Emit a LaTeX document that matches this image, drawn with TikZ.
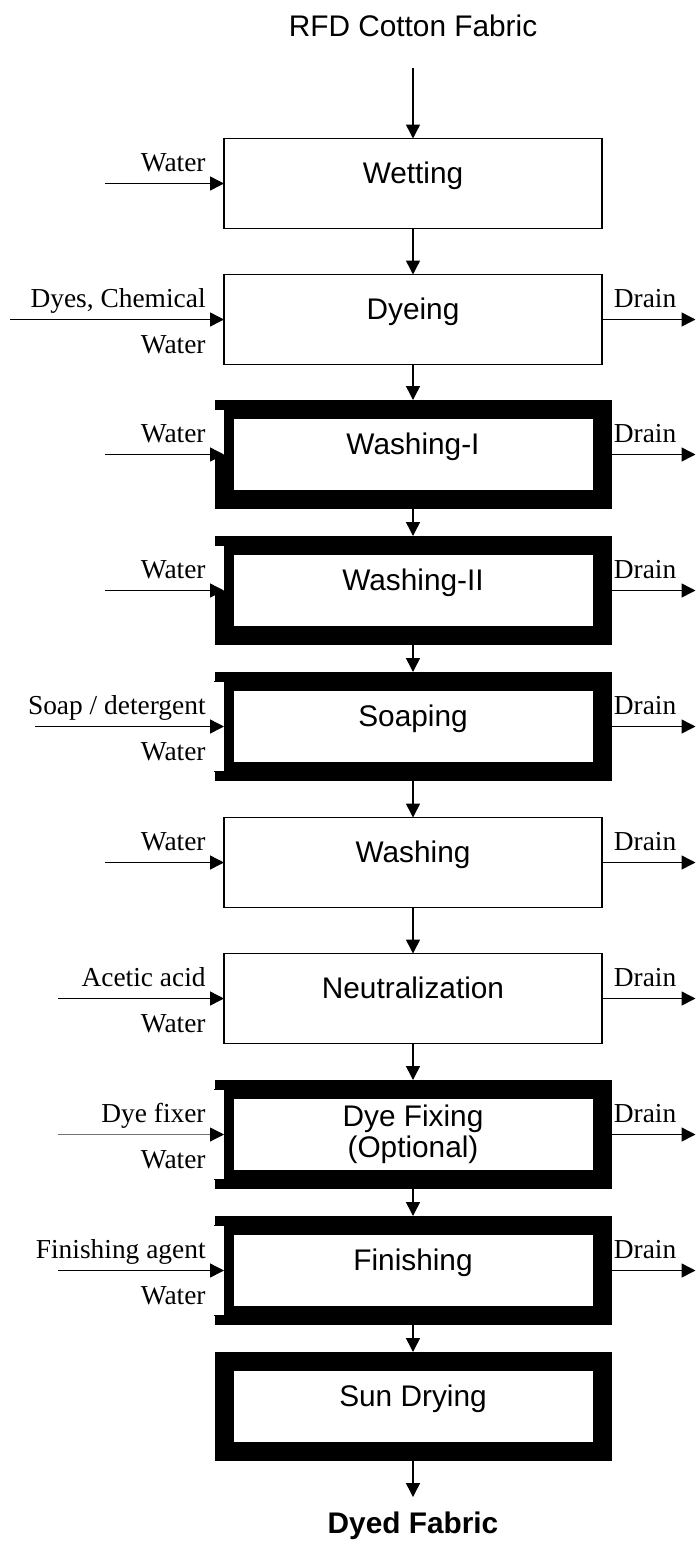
\documentclass[tikz,border=0pt]{standalone}
\usepackage{fontspec}
\setmainfont{Liberation Serif}
\setsansfont{Liberation Sans}
\usetikzlibrary{arrows.meta}
\begin{document}
\begin{tikzpicture}[x=0.5pt,y=-0.5pt,
  box/.style={draw, line width=0.65pt, minimum width=189pt, minimum height=45pt, inner sep=0pt, outer sep=0pt,
    font=\sffamily\fontsize{14.9}{15.5}\selectfont, text height=0pt, text depth=0pt},
  thickbox/.style={box, line width=9.5pt},
  flow/.style={line width=0.75pt, -{Triangle[length=7pt,width=7pt]}},
  intothick/.style={shorten >=4.75pt},
  lab/.style={font=\fontsize{13.7}{15}\selectfont, inner sep=0pt},
  notch/.style={fill=white},
  notchline/.style={line width=0.4pt},
  ]
\useasboundingbox (0,0) rectangle (696,1543);

% process boxes
\node[box] (wet) at (413,183.5) {Wetting};
\node[box] (dye) at (413,319.5) {Dyeing};
\node[thickbox] (w1) at (413,454.5) {Washing-I};
\node[thickbox] (w2) at (413,590.5) {Washing-II};
\node[thickbox] (soap) at (413,726.5) {Soaping};
\node[box] (wash) at (413,862.5) {Washing};
\node[box] (neu) at (413,998.5) {Neutralization};
\node[thickbox, align=center, text height=22.5pt, text depth=0pt] (fix) at (413,1134.5) {Dye Fixing\\(Optional)};
\node[thickbox] (fin) at (413,1270.5) {Finishing};
\node[thickbox] (sun) at (413,1406.5) {Sun Drying};

% notches in the thick frames
\fill[notch] ([xshift=-5pt]w1.north west) rectangle (w1.west);
\fill[notch] ([xshift=-5pt]w2.north west) rectangle (w2.west);
\foreach \b in {soap,fix,fin}{
  \fill[notch] ([xshift=-5pt]\b.north west) rectangle (\b.south west);
  \draw[notchline] ([xshift=-5pt]\b.north west) -- (\b.north west);
  \draw[notchline] ([xshift=-5pt]\b.south west) -- (\b.south west);
}

% start and end
\node[font=\sffamily\fontsize{14.9}{18}\selectfont, anchor=base, inner sep=0pt] (src) at (413,36.5) {RFD Cotton Fabric};
\coordinate (srca) at (413,68);
\node[font=\sffamily\bfseries\fontsize{14.9}{18}\selectfont, anchor=base, inner sep=0pt] (out) at (413,1533) {Dyed Fabric};
\coordinate (outa) at (413,1497);

% main flow
\draw[flow] (srca) -- (wet);
\draw[flow] (wet) -- (dye);
\draw[flow, intothick] (dye) -- (w1);
\draw[flow, intothick] (w1) -- (w2);
\draw[flow, intothick] (w2) -- (soap);
\draw[flow] (soap) -- (wash);
\draw[flow] (wash) -- (neu);
\draw[flow, intothick] (neu) -- (fix);
\draw[flow, intothick] (fix) -- (fin);
\draw[flow, intothick] (fin) -- (sun);
\draw[flow] (sun) -- (outa);

% inputs
\coordinate (wetin) at (105,183.5);
\draw[flow] (wetin) -- (wet.west);
\node[lab, anchor=base east] (wetl) at ([xshift=-9pt,yshift=6pt]wet.west) {Water};

\coordinate (dyein) at (10,319.5);
\draw[flow] (dyein) -- (dye.west);
\node[lab, anchor=base east] (dyel) at ([xshift=-9pt,yshift=6pt]dye.west) {Dyes, Chemical};
\node[lab, anchor=base east] (dyel2) at ([xshift=-9pt,yshift=-17pt]dye.west) {Water};

\coordinate (w1in) at (105,454.5);
\draw[flow] (w1in) -- (w1.west);
\node[lab, anchor=base east] (w1l) at ([xshift=-9pt,yshift=6pt]w1.west) {Water};

\coordinate (w2in) at (105,590.5);
\draw[flow] (w2in) -- (w2.west);
\node[lab, anchor=base east] (w2l) at ([xshift=-9pt,yshift=6pt]w2.west) {Water};

\coordinate (soapin) at (35,726.5);
\draw[flow] (soapin) -- (soap.west);
\node[lab, anchor=base east] (soapl) at ([xshift=-9pt,yshift=6pt]soap.west) {Soap / detergent};
\node[lab, anchor=base east] (soapl2) at ([xshift=-9pt,yshift=-17pt]soap.west) {Water};

\coordinate (washin) at (105,862.5);
\draw[flow] (washin) -- (wash.west);
\node[lab, anchor=base east] (washl) at ([xshift=-9pt,yshift=6pt]wash.west) {Water};

\coordinate (neuin) at (58,998.5);
\draw[flow] (neuin) -- (neu.west);
\node[lab, anchor=base east] (neul) at ([xshift=-9pt,yshift=6pt]neu.west) {Acetic acid};
\node[lab, anchor=base east] (neul2) at ([xshift=-9pt,yshift=-17pt]neu.west) {Water};

\coordinate (fixin) at (58,1134.5);
\draw[line width=0.5pt, draw=black!55, -{Triangle[length=7pt,width=7pt,color=black]}] (fixin) -- (fix.west);
\node[lab, anchor=base east] (fixl) at ([xshift=-9pt,yshift=6pt]fix.west) {Dye fixer};
\node[lab, anchor=base east] (fixl2) at ([xshift=-9pt,yshift=-17pt]fix.west) {Water};

\coordinate (finin) at (58,1270.5);
\draw[flow] (finin) -- (fin.west);
\node[lab, anchor=base east] (finl) at ([xshift=-9pt,yshift=6pt]fin.west) {Finishing agent};
\node[lab, anchor=base east] (finl2) at ([xshift=-9pt,yshift=-17pt]fin.west) {Water};

% drains
\foreach \b in {dye,w1,w2,soap,wash,neu,fix,fin}{
  \coordinate (\b d) at ([xshift=46.75pt]\b.east);
  \draw[flow] (\b.east) -- (\b d);
  \node[lab, anchor=base west] (\b dl) at ([xshift=5.75pt,yshift=6pt]\b.east) {Drain};
}
\end{tikzpicture}
\end{document}
